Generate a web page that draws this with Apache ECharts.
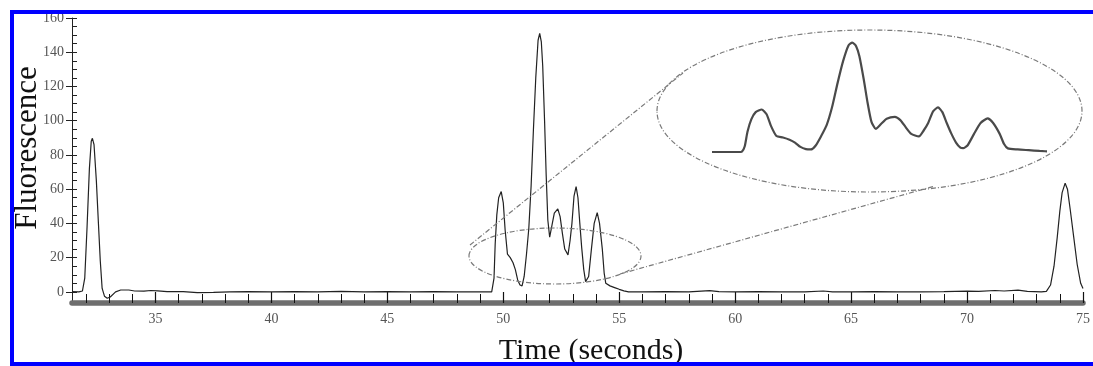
<!DOCTYPE html>
<html>
<head>
<meta charset="utf-8">
<script src="https://cdn.jsdelivr.net/npm/echarts@6.0.0/dist/echarts.min.js"></script>
<style>
html, body { margin: 0; padding: 0; background: #fff; }
#chart { width: 1093px; height: 366px; }
</style>
</head>
<body>
<div id="chart"></div>
<script>
// time (s) and fluorescence
var timeSec = [
    31.4, 31.7, 31.85, 31.95, 32.05, 32.15, 32.23, 32.28, 32.35, 32.45, 32.54, 32.62, 32.7, 32.8, 32.92, 33.05, 33.28, 33.5, 33.85, 34.1,
    34.5, 34.8, 35.1, 35.5, 36.2, 36.8, 37.5, 38.2, 39, 40, 41, 42, 43, 44, 45, 46, 47, 48, 49, 49.5,
    49.55, 49.6, 49.65, 49.72, 49.8, 49.91, 50, 50.08, 50.18, 50.3, 50.42, 50.52, 50.62, 50.72, 50.81, 50.9, 51, 51.1, 51.2, 51.3,
    51.4, 51.5, 51.57, 51.64, 51.7, 51.78, 51.85, 51.92, 52, 52.1, 52.2, 52.35, 52.45, 52.55, 52.65, 52.79, 52.88, 52.96, 53.05, 53.14,
    53.22, 53.3, 53.38, 53.47, 53.55, 53.6, 53.68, 53.8, 53.92, 54.05, 54.15, 54.27, 54.35, 54.42, 54.6, 54.8, 55, 55.2, 55.4, 56,
    57, 58, 58.9, 59.3, 60, 61, 62, 63, 63.8, 64.2, 65, 66, 67, 68, 69, 70, 70.5, 71.2, 71.6, 72.2,
    72.6, 73.2, 73.42, 73.6, 73.75, 73.89, 74, 74.1, 74.23, 74.33, 74.45, 74.6, 74.75, 74.9, 75
];
var fluorescence = [
    0.2, 0, 0.5, 8, 38, 72, 88, 89.7, 86, 65, 40, 18, 2, -2.5, -3.7, -3, 0, 1.1, 1.1, 0.5,
    0.4, 0.8, 0.6, 0.2, 0.1, -0.4, -0.3, 0, 0.1, 0, 0.1, 0, 0.3, 0, 0.1, 0, 0.1, 0, 0, 0,
    0.8, 8, 28, 45, 55, 58.6, 52, 36, 22, 20, 17, 13, 7, 4, 3.5, 9, 22, 37, 62, 95,
    125, 147, 151, 146, 132, 100, 68, 42, 32, 39, 46, 48.5, 44, 34, 25, 21.6, 30, 40, 56, 61.5,
    55, 40, 26, 13, 6, 5.3, 9, 25, 40, 46.3, 40, 25, 11, 5, 3.5, 2.5, 1.5, 0.6, 0, 0,
    0.1, 0, 0.7, 0.2, 0, 0.1, 0, 0, 0.5, 0, 0, 0.1, 0, 0, 0.1, 0.4, 0.3, 0.8, 0.5, 1,
    0.3, 0, 0.3, 4, 15, 32, 47, 58, 63.5, 60, 48, 32, 16, 5, 2
];

var xMajorTicks = [35, 40, 45, 50, 55, 60, 65, 70, 75];
var xMinorTicks = [];
for (var s = 32; s <= 75; s++) xMinorTicks.push(s);
var yLabelTicks = [0, 20, 40, 60, 80, 100, 120, 140, 160];
var yMinorTicks = [];
for (var v = 0; v <= 160; v += 5) yMinorTicks.push(v);

// zoomed-in window of the cluster shown in the inset
var insetRange = [49.0, 55.1];

var mainData = timeSec.map(function (t, i) { return [t, fluorescence[i]]; });
var insetData = mainData.filter(function (d) { return d[0] >= 48.5 && d[0] <= 55.5; });

var serif = 'Liberation Serif';
var dash = { fill: 'none', stroke: '#7a7a7a', lineWidth: 1.2, lineDash: [5, 2, 1, 2] };

var myChart = echarts.init(document.getElementById('chart'));

var option = {
    backgroundColor: '#fff',
    animation: false,
    grid: [
        { left: 72, right: -2, top: 18, bottom: 63 },
        { left: 712, right: 48, top: 36, bottom: 214 }
    ],
    xAxis: [
        {
            type: 'value', gridIndex: 0, min: 31.4, max: 75, position: 'bottom',
            splitLine: { show: false },
            axisLine: { onZero: false, lineStyle: { color: '#6e6e6e', width: 5.5 } },
            axisTick: { inside: true, length: 11, customValues: xMajorTicks, lineStyle: { color: '#111', width: 1.2 } },
            axisLabel: { customValues: xMajorTicks, margin: 9, color: '#555', fontFamily: serif, fontSize: 14 }
        },
        {
            type: 'value', gridIndex: 0, min: 31.4, max: 75, position: 'bottom',
            splitLine: { show: false },
            axisLine: { show: false, onZero: false },
            axisTick: { inside: true, length: 9, customValues: xMinorTicks, lineStyle: { color: '#111', width: 1 } },
            axisLabel: { show: false }
        },
        {
            type: 'value', gridIndex: 1, min: insetRange[0], max: insetRange[1], show: false
        }
    ],
    yAxis: [
        {
            type: 'value', gridIndex: 0, min: -6.5, max: 160, position: 'left',
            splitLine: { show: false },
            axisLine: { onZero: false, lineStyle: { color: '#222', width: 1 } },
            axisTick: { inside: false, length: 6, customValues: yLabelTicks, lineStyle: { color: '#222' } },
            axisLabel: { customValues: yLabelTicks, margin: 8, color: '#555', fontFamily: serif, fontSize: 14 }
        },
        {
            type: 'value', gridIndex: 0, min: -6.5, max: 160, position: 'left',
            splitLine: { show: false },
            axisLine: { show: false, onZero: false },
            axisTick: { inside: true, length: 5, customValues: yMinorTicks, lineStyle: { color: '#222' } },
            axisLabel: { show: false }
        },
        {
            type: 'value', gridIndex: 1, min: 0, max: 160, show: false
        }
    ],
    series: [
        {
            name: 'Fluorescence',
            type: 'line',
            xAxisIndex: 0, yAxisIndex: 0,
            data: mainData,
            showSymbol: false,
            lineStyle: { color: '#222', width: 1.2 }
        },
        {
            name: 'Inset',
            type: 'line',
            xAxisIndex: 2, yAxisIndex: 2,
            data: insetData,
            showSymbol: false,
            smooth: 0.2,
            clip: true,
            lineStyle: { color: '#4a4a4a', width: 2.2 }
        }
    ],
    graphic: [
        { type: 'ellipse', shape: { cx: 555, cy: 256, rx: 86, ry: 28 }, style: dash, z: 50 },
        { type: 'ellipse', shape: { cx: 869.5, cy: 111, rx: 212.5, ry: 81 }, style: dash, z: 50 },
        { type: 'line', shape: { x1: 470, y1: 245, x2: 683, y2: 73 }, style: dash, z: 50 },
        { type: 'line', shape: { x1: 620, y1: 274, x2: 935, y2: 186 }, style: dash, z: 50 },
        {
            type: 'text', x: 28, y: 148, rotation: Math.PI / 2, z: 50,
            style: { text: 'Fluorescence', font: '31px "Liberation Serif"', fill: '#111', align: 'center', verticalAlign: 'middle' }
        },
        {
            type: 'text', x: 591, y: 351, z: 50,
            style: { text: 'Time (seconds)', font: '30px "Liberation Serif"', fill: '#111', align: 'center', verticalAlign: 'middle' }
        },
        {
            type: 'rect', z: 100,
            shape: { x: 12, y: 12, width: 1200, height: 352 },
            style: { fill: 'none', stroke: '#0000ff', lineWidth: 4 }
        }
    ]
};

myChart.setOption(option);
</script>
</body>
</html>
